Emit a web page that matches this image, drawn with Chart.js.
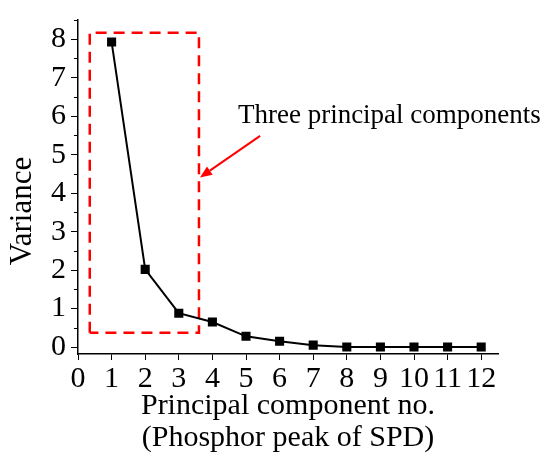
<!DOCTYPE html>
<html>
<head>
<meta charset="utf-8">
<script src="https://cdn.jsdelivr.net/npm/chart.js@4"></script>
<style>
  html, body { margin: 0; padding: 0; background: #fff; }
</style>
</head>
<body>
<canvas id="chart" width="546" height="459"></canvas>
<script>
// scree values per principal component
const components = [1, 2, 3, 4, 5, 6, 7, 8, 9, 10, 11, 12];
const variance = [7.93, 2.02, 0.88, 0.65, 0.28, 0.15, 0.05, 0, 0, 0, 0, 0];

const xTicks = [0, 1, 2, 3, 4, 5, 6, 7, 8, 9, 10, 11, 12];
const yTicks = [0, 1, 2, 3, 4, 5, 6, 7, 8];
const yMinorTicks = [0.5, 1.5, 2.5, 3.5, 4.5, 5.5, 6.5, 7.5, 8.5];

// highlight box around the first three components (data units)
const boxX = [0.35, 3.6];
const boxY = [0.37, 8.17];
const arrowFrom = [5.42, 5.49];
const arrowTo = [3.63, 4.41];
const noteText = 'Three principal components';
const noteAt = [4.76, 5.82];

const xTitle = ['Principal component no.', '(Phosphor peak of SPD)'];
const yTitle = 'Variance';

const serif = '"Liberation Serif", "Times New Roman", serif';
Chart.defaults.font.family = serif;
Chart.defaults.color = '#000';

const extras = {
  id: 'extras',
  afterDraw(chart) {
    const {ctx, chartArea, scales: {x, y}} = chart;
    ctx.save();

    // minor ticks on the y axis
    ctx.strokeStyle = '#000';
    ctx.lineWidth = 1;
    yMinorTicks.forEach(v => {
      const py = Math.round(y.getPixelForValue(v)) + 0.5;
      ctx.beginPath();
      ctx.moveTo(chartArea.left - 4, py);
      ctx.lineTo(chartArea.left, py);
      ctx.stroke();
    });

    // y title
    ctx.font = '31px ' + serif;
    ctx.fillStyle = '#000';
    ctx.textAlign = 'center';
    ctx.textBaseline = 'middle';
    ctx.translate(y.left + 23, (chartArea.top + chartArea.bottom) / 2 + 24);
    ctx.rotate(-Math.PI / 2);
    ctx.fillText(yTitle, 0, 0);
    ctx.setTransform(1, 0, 0, 1, 0, 0);

    // arrow pointing at the box
    const x0 = x.getPixelForValue(arrowFrom[0]), y0 = y.getPixelForValue(arrowFrom[1]);
    const x1 = x.getPixelForValue(arrowTo[0]), y1 = y.getPixelForValue(arrowTo[1]);
    const ang = Math.atan2(y1 - y0, x1 - x0);
    const head = 12, half = 5;
    ctx.strokeStyle = '#ff0000';
    ctx.fillStyle = '#ff0000';
    ctx.lineWidth = 2;
    ctx.beginPath();
    ctx.moveTo(x0, y0);
    ctx.lineTo(x1 - Math.cos(ang) * head, y1 - Math.sin(ang) * head);
    ctx.stroke();
    ctx.beginPath();
    ctx.moveTo(x1, y1);
    ctx.lineTo(x1 - Math.cos(ang) * head - Math.sin(ang) * half, y1 - Math.sin(ang) * head + Math.cos(ang) * half);
    ctx.lineTo(x1 - Math.cos(ang) * head + Math.sin(ang) * half, y1 - Math.sin(ang) * head - Math.cos(ang) * half);
    ctx.closePath();
    ctx.fill();

    // note text
    ctx.font = '27px ' + serif;
    ctx.fillStyle = '#000';
    ctx.textAlign = 'left';
    ctx.textBaseline = 'alphabetic';
    ctx.fillText(noteText, x.getPixelForValue(noteAt[0]), y.getPixelForValue(noteAt[1]));

    ctx.restore();
  }
};

const points = components.map((c, i) => ({x: c, y: variance[i]}));
const box = [
  {x: boxX[0], y: boxY[0]}, {x: boxX[0], y: boxY[1]},
  {x: boxX[1], y: boxY[1]}, {x: boxX[1], y: boxY[0]},
  {x: boxX[0], y: boxY[0]}
];

new Chart(document.getElementById('chart').getContext('2d'), {
  type: 'line',
  data: {
    datasets: [
      {
        data: points,
        borderColor: '#000',
        backgroundColor: '#000',
        borderWidth: 2,
        pointStyle: 'rect',
        pointRadius: 5,
        pointHoverRadius: 5,
        tension: 0
      },
      {
        data: box,
        borderColor: '#ff0000',
        borderWidth: 2.5,
        borderDash: [11, 7],
        pointRadius: 0,
        fill: false
      }
    ]
  },
  options: {
    responsive: false,
    animation: false,
    events: [],
    layout: {padding: {top: 16, right: 48, left: 0, bottom: 0}},
    plugins: {legend: {display: false}, tooltip: {enabled: false}},
    scales: {
      x: {
        type: 'linear',
        min: 0,
        max: 12.5,
        afterBuildTicks: s => { s.ticks = xTicks.map(v => ({value: v})); },
        afterFit: s => { s.height = 105; },
        border: {display: true, color: '#000', width: 1.5},
        grid: {drawOnChartArea: false, drawTicks: true, tickLength: 6, color: '#000', lineWidth: 1},
        ticks: {font: {size: 30, lineHeight: 1}, color: '#000', padding: 4, maxRotation: 0, autoSkip: false},
        title: {display: true, text: xTitle, color: '#000', font: {size: 30, lineHeight: '32px'}, padding: {top: 0, bottom: 5}}
      },
      y: {
        type: 'linear',
        min: -0.18,
        max: 8.5,
        afterBuildTicks: s => { s.ticks = yTicks.map(v => ({value: v})); },
        afterFit: s => { s.width = 78; },
        border: {display: true, color: '#000', width: 1.5},
        grid: {drawOnChartArea: false, drawTicks: true, tickLength: 7, color: '#000', lineWidth: 1},
        ticks: {font: {size: 30, lineHeight: 1}, color: '#000', padding: 5},
        title: {display: false}
      }
    }
  },
  plugins: [extras]
});
</script>
</body>
</html>
